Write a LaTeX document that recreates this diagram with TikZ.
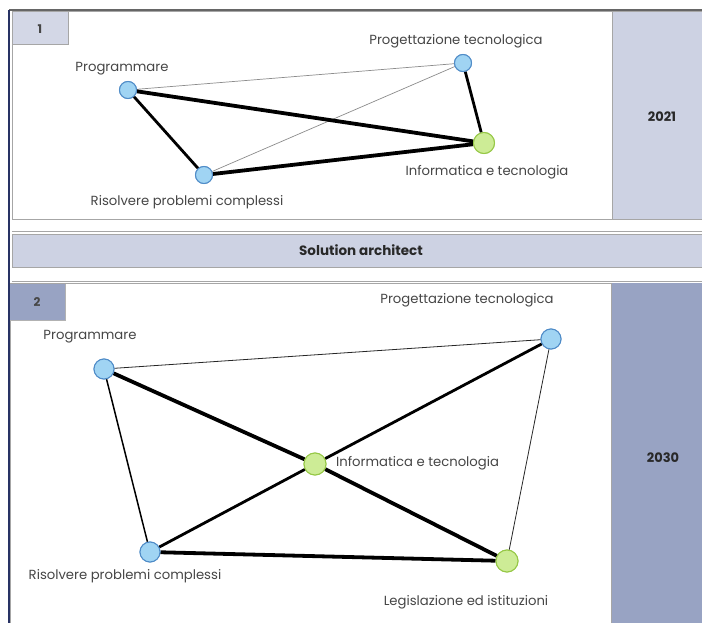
\documentclass[tikz,border=0pt]{standalone}
\usepackage{fontspec}
\setmainfont{Poppins}
\definecolor{lightcol}{RGB}{205,210,227}
\definecolor{boxone}{RGB}{211,215,230}
\definecolor{darkcol}{RGB}{152,163,195}
\definecolor{navy}{RGB}{40,50,100}
\definecolor{bluefill}{RGB}{160,212,243}
\definecolor{bluedraw}{RGB}{80,140,200}
\definecolor{greenfill}{RGB}{205,236,150}
\definecolor{greendraw}{RGB}{150,200,70}
\definecolor{txt}{RGB}{70,70,70}
\definecolor{hdrtxt}{RGB}{40,40,40}
\begin{document}
\begin{tikzpicture}[x=1pt,y=-1pt,
  blu/.style={circle,draw=bluedraw,fill=bluefill,line width=1pt,inner sep=0pt,minimum size=#1},
  blu/.default=17pt,
  grn/.style={circle,draw=greendraw,fill=greenfill,line width=1pt,inner sep=0pt,minimum size=#1},
  grn/.default=21pt,
  lbl/.style={font=\fontsize{13.2}{15}\selectfont,text=txt,inner sep=0pt},
  hdr/.style={font=\fontsize{13.5}{15}\selectfont\bfseries,text=hdrtxt,inner sep=0pt},
  vthick/.style={line width=3.8pt},
  mthick/.style={line width=2.8pt},
  mid/.style={line width=1.5pt},
  thin/.style={line width=0.8pt,black!85},
  faint/.style={line width=0.7pt,black!45},
  frame/.style={draw=black!35,line width=1pt}
]
\useasboundingbox (0,0) rectangle (702,623);
\fill[white] (0,0) rectangle (702,623);
% top frame
\draw[line width=1.5pt,black!60] (9,10) -- (702,10);
% panel 1
\draw[frame,fill=white] (12,12) rectangle (612,220);
\draw[frame,fill=lightcol] (612,12) rectangle (703,220);
\draw[frame,fill=boxone] (12,12) rectangle (68,45);
% band
\draw[frame] (12,231) -- (703,231);
\draw[frame,fill=lightcol] (12,234) rectangle (703,267);
\draw[frame] (12,281) -- (703,281);
% panel 2
\draw[frame,fill=white] (10,283) rectangle (611,624);
\fill[darkcol] (611,283) rectangle (703,624);
\draw[frame] (611,283) -- (611,624);
\fill[darkcol] (10,284) rectangle (65,320);
\draw[black!30] (10,320) -- (65,320) -- (65,284);
% left navy line
\draw[line width=2pt,navy] (9,10) -- (9,623);

\node[lbl,font=\fontsize{12}{14}\selectfont\bfseries] (n1) at (40,29) {1};
\node[lbl,font=\fontsize{12}{14}\selectfont\bfseries] (n2) at (37,302) {2};
\node[hdr,font=\fontsize{13}{15}\selectfont\bfseries] (y1) at (662,117) {2021};
\node[hdr,font=\fontsize{13}{15}\selectfont\bfseries] (y2) at (663,458) {2030};
\node[hdr] (sa) at (361,250) {Solution architect};

% graph 1
\node[blu] (a1) at (128,90) {};
\node[blu] (b1) at (463,63) {};
\node[grn] (c1) at (484,143) {};
\node[blu] (d1) at (204,175) {};
\node[lbl] (la1) at (122,69) {Programmare};
\node[lbl] (lb1) at (456,41) {Progettazione tecnologica};
\node[lbl] (lc1) at (487,172) {Informatica e tecnologia};
\node[lbl] (ld1) at (187,202) {Risolvere problemi complessi};
\draw[faint] (a1) -- (b1);
\draw[faint] (d1) -- (b1);
\draw[vthick] (a1) -- (c1);
\draw[mthick] (a1) -- (d1);
\draw[vthick] (d1) -- (c1);
\draw[mthick] (b1) -- (c1);
\node[blu] at (a1) {};
\node[blu] at (b1) {};
\node[grn] at (c1) {};
\node[blu] at (d1) {};

% graph 2
\node[blu=20pt] (a2) at (104,369) {};
\node[blu=20pt] (b2) at (551,339) {};
\node[grn=22pt] (c2) at (315,464) {};
\node[blu=20pt] (d2) at (150,552) {};
\node[grn=22pt] (e2) at (507,561) {};
\node[lbl] (la2) at (90,337) {Programmare};
\node[lbl] (lb2) at (467,300) {Progettazione tecnologica};
\node[lbl,anchor=west] (lc2) at (336,463) {Informatica e tecnologia};
\node[lbl] (ld2) at (125,576) {Risolvere problemi complessi};
\node[lbl] (le2) at (466,602) {Legislazione ed istituzioni};
\draw[thin] (a2) -- (b2);
\draw[thin] (b2) -- (e2);
\draw[mid] (a2) -- (d2);
\draw[vthick] (a2) -- (c2);
\draw[vthick] (c2) -- (e2);
\draw[mthick] (d2) -- (c2);
\draw[mthick] (c2) -- (b2);
\draw[vthick] (d2) -- (e2);
\node[blu=20pt] at (a2) {};
\node[blu=20pt] at (b2) {};
\node[grn=22pt] at (c2) {};
\node[blu=20pt] at (d2) {};
\node[grn=22pt] at (e2) {};
\end{tikzpicture}
\end{document}
